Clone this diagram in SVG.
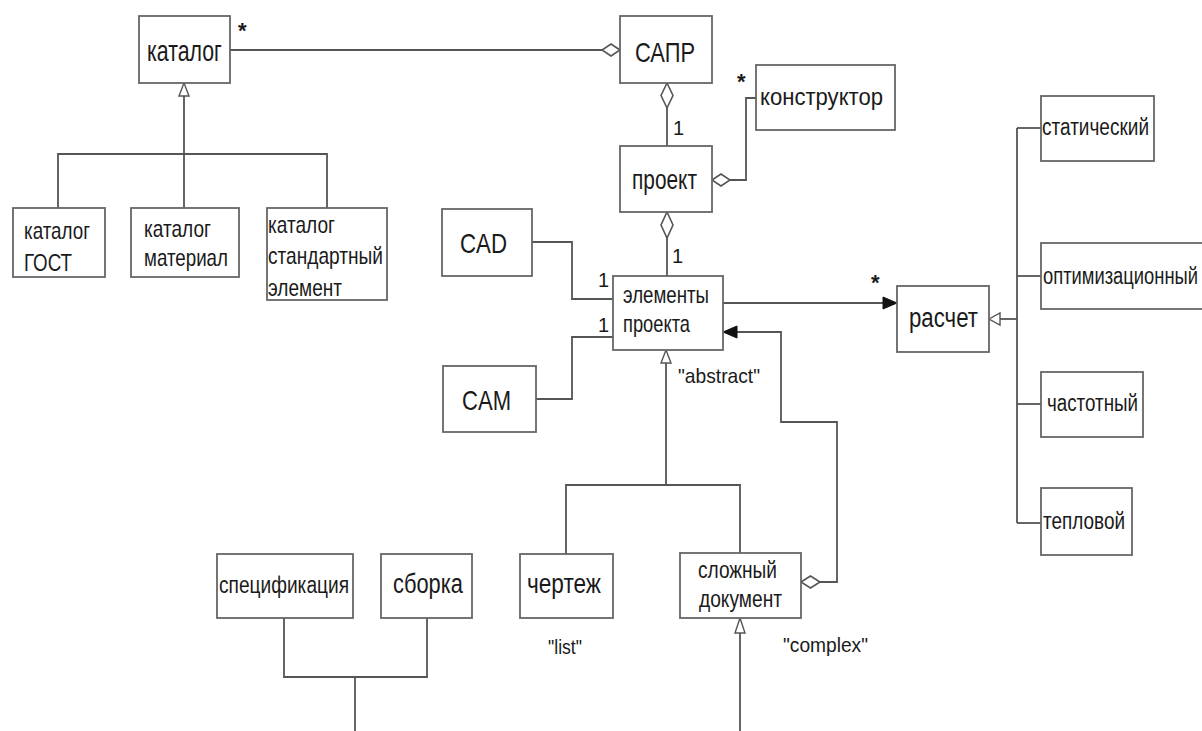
<svg xmlns="http://www.w3.org/2000/svg" width="1202" height="731" viewBox="0 0 1202 731">
<style>
.box{fill:#fff;stroke:#666;stroke-width:1.8}
.ln{fill:none;stroke:#555;stroke-width:1.8}
.dia{fill:#fff;stroke:#555;stroke-width:1.6}
.tri{fill:#fff;stroke:#555;stroke-width:1.4}
.arr{fill:#111;stroke:#111;stroke-width:1}
text{font-family:"Liberation Sans",Arial,sans-serif;fill:#1a1a1a}
.t22{font-size:27px}
.t20{font-size:24px}
.t19{font-size:23px}
.t18{font-size:21px}
.n1{font-size:20px}
.big{font-size:28px}
.star{font-size:22px;font-weight:bold}
</style>
<rect width="1202" height="731" fill="#fff"/>

<g id="connectors">
  <!-- каталог - САПР -->
  <line class="ln" x1="230" y1="50" x2="602" y2="50"/>
  <polygon class="dia" points="620,50 611,44 602,50 611,56"/>
  <!-- generalization каталог -->
  <polyline class="ln" points="184,96 184,154"/>
  <polyline class="ln" points="58,208 58,154 327,154 327,208"/>
  <line class="ln" x1="184" y1="154" x2="184" y2="208"/>
  <polygon class="tri" points="184,83 189,96 179,96"/>
  <!-- САПР - проект -->
  <line class="ln" x1="667" y1="108" x2="667" y2="146"/>
  <polygon class="dia" points="667,83 673,95.5 667,108 661,95.5"/>
  <!-- проект - конструктор -->
  <polyline class="ln" points="730,180 746,180 746,98 756,98"/>
  <polygon class="dia" points="712,180 721,174 730,180 721,186"/>
  <!-- проект - элементы -->
  <line class="ln" x1="667" y1="238" x2="667" y2="276"/>
  <polygon class="dia" points="667,212 673,225 667,238 661,225"/>
  <!-- CAD / CAM -->
  <polyline class="ln" points="532,242 572,242 572,299 613,299"/>
  <polyline class="ln" points="536,399 572,399 572,337 613,337"/>
  <!-- элементы - расчет -->
  <line class="ln" x1="723" y1="303" x2="884" y2="303"/>
  <polygon class="arr" points="897,303 883,297 883,309"/>
  <!-- расчет generalization -->
  <line class="ln" x1="1000" y1="319" x2="1017" y2="319"/>
  <polygon class="tri" points="989,319 1000,313 1000,325"/>
  <line class="ln" x1="1017" y1="128" x2="1017" y2="523"/>
  <line class="ln" x1="1017" y1="128" x2="1041" y2="128"/>
  <line class="ln" x1="1017" y1="276" x2="1041" y2="276"/>
  <line class="ln" x1="1017" y1="404" x2="1041" y2="404"/>
  <line class="ln" x1="1017" y1="523" x2="1041" y2="523"/>
  <!-- элементы generalization -->
  <line class="ln" x1="666" y1="363" x2="666" y2="485"/>
  <polyline class="ln" points="566,554 566,485 740,485 740,553"/>
  <polygon class="tri" points="666,350 671,363 661,363"/>
  <!-- сложный документ self aggregation -->
  <polyline class="ln" points="820,582 837,582 837,422 781,422 781,332 737,332"/>
  <polygon class="dia" points="801,582 810.5,576 820,582 810.5,588"/>
  <polygon class="arr" points="723,332 737,326 737,338"/>
  <!-- сложный документ generalization -->
  <line class="ln" x1="740" y1="633" x2="740" y2="731"/>
  <polygon class="tri" points="740,618 745,633 735,633"/>
  <!-- спецификация / сборка -->
  <polyline class="ln" points="284,618 284,677 427,677 427,618"/>
  <line class="ln" x1="355" y1="677" x2="355" y2="731"/>
  <!-- labels -->
  <text class="star" x="238" y="38">*</text>
  <text class="n1" x="673" y="135">1</text>
  <text class="star" x="737" y="89">*</text>
  <text class="n1" x="672" y="263">1</text>
  <text class="n1" x="598" y="287">1</text>
  <text class="n1" x="598" y="332">1</text>
  <text class="star" x="871" y="290">*</text>
  <text class="t18" x="678" y="383" textLength="82" lengthAdjust="spacingAndGlyphs">"abstract"</text>
  <text class="t18" x="548" y="654" textLength="34" lengthAdjust="spacingAndGlyphs">"list"</text>
  <text class="t18" x="783" y="652" textLength="85" lengthAdjust="spacingAndGlyphs">"complex"</text>
</g>

<g id="katalog">
  <rect class="box" x="139" y="16" width="91" height="67"/>
  <text transform="translate(147,61) scale(0.7,1)" x="0" y="0" font-size="29" textLength="107" lengthAdjust="spacingAndGlyphs">каталог</text>
</g>
<g id="sapr">
  <rect class="box" x="620" y="16" width="92" height="67"/>
  <text class="big" x="635" y="62" textLength="60" lengthAdjust="spacingAndGlyphs">САПР</text>
</g>
<g id="konstruktor">
  <rect class="box" x="756" y="65" width="139" height="65"/>
  <text class="t20" x="760" y="105" textLength="123" lengthAdjust="spacingAndGlyphs">конструктор</text>
</g>
<g id="proekt">
  <rect class="box" x="620" y="146" width="92" height="66"/>
  <text class="t22" x="632" y="189" textLength="65" lengthAdjust="spacingAndGlyphs">проект</text>
</g>
<g id="katalog-gost">
  <rect class="box" x="13" y="208" width="92" height="69"/>
  <text class="t20" x="24" y="239" textLength="66" lengthAdjust="spacingAndGlyphs">каталог</text>
  <text class="t20" x="24" y="271" textLength="48" lengthAdjust="spacingAndGlyphs">ГОСТ</text>
</g>
<g id="katalog-material">
  <rect class="box" x="131" y="208" width="108" height="69"/>
  <text class="t20" x="144" y="237" textLength="67" lengthAdjust="spacingAndGlyphs">каталог</text>
  <text class="t20" x="144" y="266" textLength="84" lengthAdjust="spacingAndGlyphs">материал</text>
</g>
<g id="katalog-standart">
  <rect class="box" x="267" y="208" width="120" height="92"/>
  <text class="t20" x="268" y="233" textLength="67" lengthAdjust="spacingAndGlyphs">каталог</text>
  <text class="t20" x="268" y="264" textLength="115" lengthAdjust="spacingAndGlyphs">стандартный</text>
  <text class="t20" x="268" y="296" textLength="74" lengthAdjust="spacingAndGlyphs">элемент</text>
</g>
<g id="cad">
  <rect class="box" x="442" y="209" width="90" height="67"/>
  <text class="big" x="460" y="253" textLength="47" lengthAdjust="spacingAndGlyphs">CAD</text>
</g>
<g id="cam">
  <rect class="box" x="443" y="366" width="93" height="66"/>
  <text class="big" x="462" y="410" textLength="49" lengthAdjust="spacingAndGlyphs">CAM</text>
</g>
<g id="elementy">
  <rect class="box" x="613" y="276" width="110" height="74"/>
  <text class="t20" x="623" y="303" textLength="86" lengthAdjust="spacingAndGlyphs">элементы</text>
  <text class="t20" x="623" y="332" textLength="67" lengthAdjust="spacingAndGlyphs">проекта</text>
</g>
<g id="raschet">
  <rect class="box" x="897" y="286" width="92" height="66"/>
  <text class="t22" x="909" y="327" textLength="69" lengthAdjust="spacingAndGlyphs">расчет</text>
</g>
<g id="staticheskiy">
  <rect class="box" x="1041" y="96" width="113" height="65"/>
  <text class="t19" x="1042" y="135" textLength="107" lengthAdjust="spacingAndGlyphs">статический</text>
</g>
<g id="optimizacionny">
  <rect class="box" x="1041" y="243" width="170" height="66"/>
  <text class="t19" transform="translate(1043,284) scale(0.82,1)" x="0" y="0" textLength="189" lengthAdjust="spacingAndGlyphs">оптимизационный</text>
</g>
<g id="chastotny">
  <rect class="box" x="1041" y="372" width="102" height="65"/>
  <text class="t19" x="1047" y="411" textLength="91" lengthAdjust="spacingAndGlyphs">частотный</text>
</g>
<g id="teplovoy">
  <rect class="box" x="1041" y="488" width="91" height="67"/>
  <text class="t19" x="1043" y="529" textLength="82" lengthAdjust="spacingAndGlyphs">тепловой</text>
</g>
<g id="specifikaciya">
  <rect class="box" x="217" y="554" width="136" height="64"/>
  <text class="t19" x="219" y="593" textLength="130" lengthAdjust="spacingAndGlyphs">спецификация</text>
</g>
<g id="sborka">
  <rect class="box" x="381" y="554" width="91" height="64"/>
  <text class="t22" x="393" y="593" textLength="70" lengthAdjust="spacingAndGlyphs">сборка</text>
</g>
<g id="chertezh">
  <rect class="box" x="520" y="554" width="93" height="64"/>
  <text class="t22" x="527" y="593" textLength="74" lengthAdjust="spacingAndGlyphs">чертеж</text>
</g>
<g id="slozhny-dokument">
  <rect class="box" x="680" y="553" width="121" height="65"/>
  <text class="t19" x="698" y="578" textLength="79" lengthAdjust="spacingAndGlyphs">сложный</text>
  <text class="t19" x="699" y="607" textLength="83" lengthAdjust="spacingAndGlyphs">документ</text>
</g>
</svg>
